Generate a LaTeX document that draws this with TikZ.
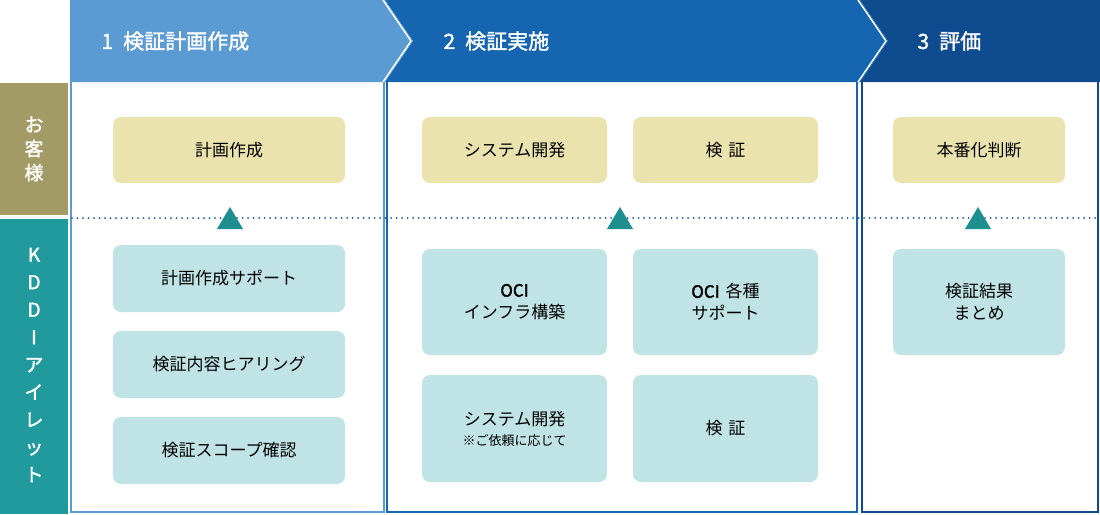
\documentclass[tikz,border=0pt]{standalone}
\usepackage{fontspec}
\setmainfont{Noto Sans CJK JP}
\newfontfamily\jpb{Noto Sans CJK JP}[FakeBold=1.5]
\begin{document}
\begin{tikzpicture}[x=1pt,y=-1pt,
  yb/.style={fill=yel,rounded corners=8pt,draw=none,font=\fontsize{17}{22}\selectfont,align=center},
  tb/.style={fill=tea,rounded corners=8pt,draw=none,font=\fontsize{17}{22}\selectfont,align=center},
  hd/.style={text=white,font=\jpb\fontsize{21}{24}\selectfont,anchor=west},
  tri/.style={fill=tri,draw=none}]
\definecolor{c1}{HTML}{5B9BD3}\definecolor{c2}{HTML}{1565B0}\definecolor{c3}{HTML}{0E4C8F}
\definecolor{yel}{HTML}{EAE3AE}\definecolor{tea}{HTML}{C0E3E5}\definecolor{tri}{HTML}{1E8F8F}
\definecolor{kyaku}{HTML}{A39B65}\definecolor{kddi}{HTML}{219A9E}\definecolor{dot}{HTML}{1A55A0}
\useasboundingbox (0,0) rectangle (1100,514);
% header
\fill[c3] (860,0) -- (1100,0) -- (1100,82) -- (860,82) -- (888,41) -- cycle;
\fill[c2] (385,0) -- (860,0) -- (888,41) -- (860,82) -- (385,82) -- (413,41) -- cycle;
\fill[c1] (70,0) -- (385,0) -- (413,41) -- (385,82) -- (70,82) -- cycle;
\draw[white,line width=1.5pt] (383,0) -- (411,41) -- (383,82);
\draw[white,line width=1.5pt] (858,0) -- (886,41) -- (858,82);
\node[hd] (h1) at (98,41) {1\hspace{10pt}検証計画作成};
\node[hd] (h2) at (440,41) {2\hspace{10pt}検証実施};
\node[hd] (h3) at (914,41) {3\hspace{10pt}評価};
% panels
\draw[c1,line width=2pt] (71,82) -- (71,512) -- (384,512) -- (384,82);
\draw[c2,line width=2.5pt] (387,82) -- (387,512) -- (857,512) -- (857,82);
\draw[c3,line width=2.5pt] (862,82) -- (862,512) -- (1098,512) -- (1098,82);
% side labels
\fill[kyaku] (0,83) rectangle (68,215);
\fill[kddi] (0,219) rectangle (68,514);
\node[text=white,font=\jpb\fontsize{19}{24}\selectfont,align=center] (lk) at (34,149) {お\\客\\様};
\node[text=white,font=\jpb\fontsize{19}{27.5}\selectfont,align=center] (lkd) at (34,365) {K\\D\\D\\I\\ア\\イ\\レ\\ッ\\ト};
% dotted line
\draw[dot,line width=2pt,line cap=round,dash pattern=on 0pt off 5.5pt] (72,218) -- (1100,218);
% triangles
\foreach \x/\n in {230/t1,620/t2,978/t3} \fill[tri] (\x-13,229) -- (\x,207) -- (\x+13,229) -- cycle;
% customer boxes
\node[yb,minimum width=232pt,minimum height=66pt] (a1) at (229,150) {計画作成};
\node[yb,minimum width=185pt,minimum height=66pt] (a2) at (514.5,150) {システム開発};
\node[yb,minimum width=185pt,minimum height=66pt] (a3) at (725.5,150) {検\hspace{6pt}証};
\node[yb,minimum width=172pt,minimum height=66pt] (a4) at (979,150) {本番化判断};
% KDDI boxes
\node[tb,minimum width=232pt,minimum height=67pt] (b1) at (229,278.5) {計画作成サポート};
\node[tb,minimum width=232pt,minimum height=67pt] (b2) at (229,364.5) {検証内容ヒアリング};
\node[tb,minimum width=232pt,minimum height=67pt] (b3) at (229,450.5) {検証スコープ確認};
\node[tb,minimum width=185pt,minimum height=106pt] (c1n) at (514.5,302) {\jpb OCI\\インフラ構築};
\node[tb,minimum width=185pt,minimum height=106pt] (c2n) at (725.5,302) {\jpb OCI\hspace{6pt}\normalfont 各種\\サポート};
\node[tb,minimum width=185pt,minimum height=107pt] (c3n) at (514.5,428.5) {システム開発\\[-2pt]{\fontsize{13}{16}\selectfont ※ご依頼に応じて}};
\node[tb,minimum width=185pt,minimum height=107pt] (c4n) at (725.5,428.5) {検\hspace{6pt}証};
\node[tb,minimum width=172pt,minimum height=106pt] (d1) at (979,302) {検証結果\\まとめ};
\end{tikzpicture}
\end{document}
